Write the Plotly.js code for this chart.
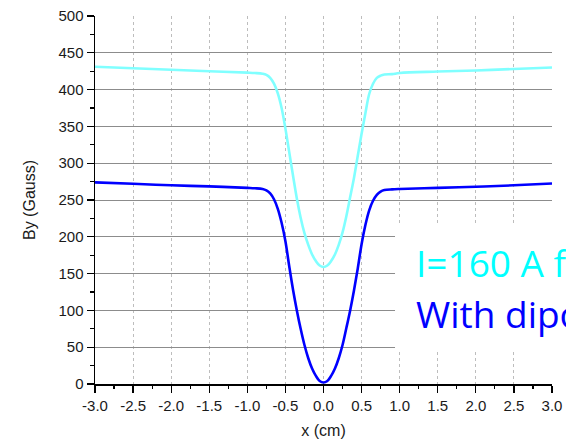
<!DOCTYPE html>
<html>
<head>
<meta charset="utf-8">
<script src="https://cdn.plot.ly/plotly-3.0.1.min.js"></script>
<style>html,body{margin:0;padding:0;background:#fff;}#chart{width:566px;height:439px;}</style>
</head>
<body>
<div id="chart"></div>
<script>
// x positions (cm)
const xLeft = [-3.0, -2.5, -2.0, -1.5, -1.0, -0.9, -0.8, -0.75, -0.7, -0.65, -0.6, -0.55, -0.5, -0.45, -0.4, -0.35, -0.3, -0.25, -0.2, -0.15, -0.1, -0.05, 0.0];
const xRight = [0.05, 0.1, 0.15, 0.2, 0.25, 0.3, 0.35, 0.4, 0.45, 0.5, 0.55, 0.6, 0.65, 0.7, 0.75, 0.8, 0.9, 1.0, 1.5, 2.0, 2.5, 3.0];
const xValues = xLeft.concat(xRight);

// By (Gauss), I=160 A (cyan)
const byCyan = [431, 429, 427, 425, 423, 422.5, 421.5, 420, 416, 408, 395, 375, 347, 315, 283, 252, 226, 205, 189, 176, 167, 161, 159,
                161, 167, 176, 189, 206, 228, 254, 280, 310, 340, 368, 394, 408, 416, 419, 420.5, 421, 422.5, 424.5, 426, 428, 430];
// By (Gauss), with dipole (blue)
const byBlue = [274, 272, 270, 268.5, 266.5, 266, 265, 263, 259, 251, 238, 219, 194, 160, 128, 100, 75, 53, 35, 21, 11, 4, 2,
                4, 11, 21, 35, 53, 76, 100, 127, 157, 190, 216, 236, 249, 257, 261.5, 263.5, 264.5, 265, 266.5, 268, 270, 272.5];

// tick labels
const xTickVals = [-3.0, -2.5, -2.0, -1.5, -1.0, -0.5, 0.0, 0.5, 1.0, 1.5, 2.0, 2.5, 3.0];
const xTickText = ["-3.0", "-2.5", "-2.0", "-1.5", "-1.0", "-0.5", "0.0", "0.5", "1.0", "1.5", "2.0", "2.5", "3.0"];
const yTickVals = [0, 50, 100, 150, 200, 250, 300, 350, 400, 450, 500];
const yTickText = ["0", "50", "100", "150", "200", "250", "300", "350", "400", "450", "500"];
const gridY = [50, 100, 150, 200, 250, 300, 350, 400, 450];

const label1 = "I=160 A for";
const label2 = "With dipole";

const tickFont = {family: "Liberation Sans, Arial, sans-serif", size: 15, color: "#1a1a1a"};

const traces = [
  {x: xValues, y: byCyan, type: "scatter", mode: "lines", line: {color: "#80ffff", width: 2.6, shape: "spline"}, showlegend: false, hoverinfo: "skip"},
  {x: xValues, y: byBlue, type: "scatter", mode: "lines", line: {color: "#0000ff", width: 2.6, shape: "spline"}, showlegend: false, hoverinfo: "skip"},
  {x: [0], y: [0], yaxis: "y2", type: "scatter", mode: "markers", marker: {opacity: 0}, showlegend: false, hoverinfo: "skip"}
];

const layout = {
  width: 566, height: 439,
  margin: {l: 95, r: 14, t: 16, b: 55},
  paper_bgcolor: "#fff", plot_bgcolor: "#fff",
  showlegend: false,
  xaxis: {
    range: [-3, 3], tickmode: "array", tickvals: xTickVals, ticktext: xTickText,
    ticks: "outside", ticklen: 7, tickwidth: 1.3, tickcolor: "#000",
    minor: {dtick: 0.25, tick0: -3, ticks: "outside", ticklen: 3.5, tickwidth: 1.2, tickcolor: "#000", showgrid: false},
    showline: true, linecolor: "#000", linewidth: 1.5,
    showgrid: true, gridcolor: "#bdbdbd", gridwidth: 1, griddash: "dot",
    zeroline: false, tickfont: tickFont,
    title: {text: "x (cm)", font: {family: "Liberation Sans, Arial, sans-serif", size: 16, color: "#1a1a1a"}, standoff: 14}
  },
  yaxis: {
    range: [0, 500], tickmode: "array", tickvals: yTickVals, ticktext: yTickText,
    ticks: "outside", ticklen: 7, tickwidth: 1.3, tickcolor: "#000",
    minor: {dtick: 25, tick0: 0, ticks: "outside", ticklen: 4, tickwidth: 1.2, tickcolor: "#000", showgrid: false},
    showline: true, linecolor: "#000", linewidth: 1.5,
    showgrid: false, zeroline: false, tickfont: tickFont,
    title: {text: "By (Gauss)", font: {family: "Liberation Sans, Arial, sans-serif", size: 16, color: "#1a1a1a"}, standoff: 19}
  },
  yaxis2: {
    overlaying: "y", range: [0, 500], tickmode: "array", tickvals: gridY,
    showticklabels: false, ticks: "", showline: false, zeroline: false,
    showgrid: true, gridcolor: "#8c8c8c", gridwidth: 1
  },
  shapes: [
    {type: "rect", xref: "paper", yref: "paper", x0: 0.6565, x1: 1.05, y0: 0.092, y1: 0.435,
     fillcolor: "#fff", line: {width: 0}, layer: "above"}
  ],
  annotations: [
    {xref: "paper", yref: "paper", x: 0.698, y: 0.330, xanchor: "left", yanchor: "middle", showarrow: false,
     text: label1, font: {family: "Open Sans, sans-serif", size: 37, color: "#00ffff"}},
    {xref: "paper", yref: "paper", x: 0.698, y: 0.191, xanchor: "left", yanchor: "middle", showarrow: false,
     text: label2, font: {family: "Open Sans, sans-serif", size: 37, color: "#0000ff"}}
  ]
};

Plotly.newPlot("chart", traces, layout, {displayModeBar: false, staticPlot: true});
</script>
</body>
</html>
